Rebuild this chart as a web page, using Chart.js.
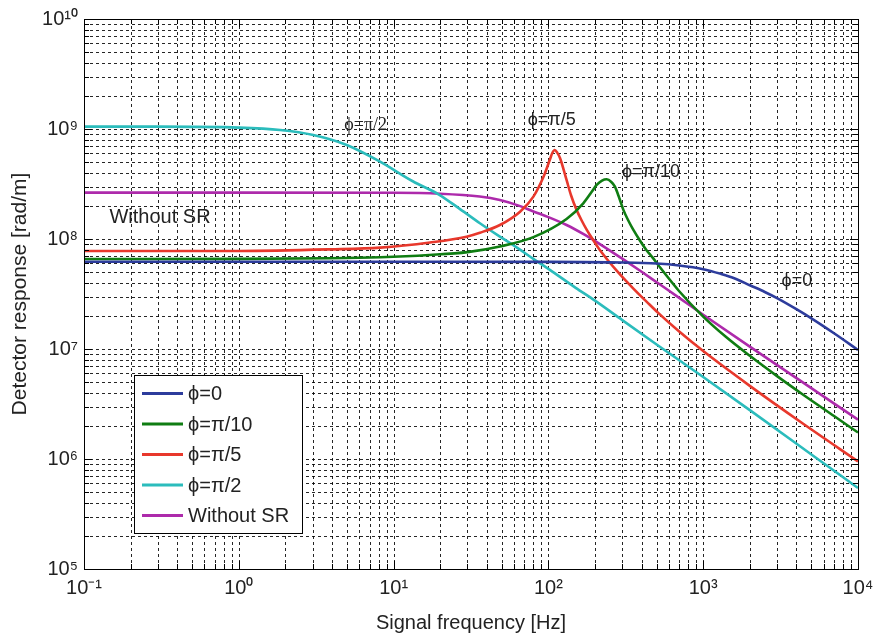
<!DOCTYPE html>
<html><head><meta charset="utf-8">
<script src="https://cdn.jsdelivr.net/npm/chart.js@4.4.1/dist/chart.umd.min.js"></script>
<style>html,body{margin:0;padding:0;background:#fff;}#wrap{width:875px;height:639px;}</style>
</head><body><div id="wrap"><canvas id="c" width="875" height="639"></canvas></div>
<script>
// ---- data ----
const xTickLabels = ['10⁻¹','10⁰','10¹','10²','10³','10⁴'];
const yTickLabels = ['10⁵','10⁶','10⁷','10⁸','10⁹','10¹⁰'];
const seriesNames = ['ϕ=0','ϕ=π/10','ϕ=π/5','ϕ=π/2','Without SR'];

const freqPhi0 = [0.1, 1, 10, 100, 300, 500, 700, 1000, 1300, 1600, 2000, 2500, 3000, 4000, 5000, 7000, 10000];
const respPhi0 = [6.22e7, 6.22e7, 6.22e7, 6.2e7, 6.12e7, 5.98e7, 5.74e7, 5.32e7, 4.82e7, 4.38e7, 3.8e7, 3.3e7, 2.9e7, 2.3e7, 1.9e7, 1.39e7, 9.8e6];

const freqPhi10 = [0.1, 1, 3.9, 8.2, 17, 30, 48.6, 80, 131, 168, 190, 205, 222, 238, 255, 269, 287, 305, 330, 354, 390, 428, 470, 512, 700, 1000, 1400, 2000, 3000, 4400, 7000, 10000];
const respPhi10 = [6.58e7, 6.6e7, 6.68e7, 6.83e7, 7.16e7, 7.6e7, 8.55e7, 1.04e8, 1.52e8, 2.11e8, 2.67e8, 3.1e8, 3.4e8, 3.49e8, 3.3e8, 2.99e8, 2.36e8, 1.84e8, 1.45e8, 1.21e8, 9.7e7, 8.0e7, 6.8e7, 5.8e7, 3.35e7, 1.97e7, 1.29e7, 8.67e6, 5.67e6, 3.86e6, 2.46e6, 1.74e6];

const freqPhi5 = [0.1, 1, 3.9, 8.2, 17.2, 29.6, 36.1, 48.6, 65.6, 80, 93, 102, 106, 110, 114, 119, 131, 140, 152, 165, 177, 195, 215, 245, 277, 315, 354, 400, 450, 512, 700, 1000, 2000, 4400, 10000];
const respPhi5 = [7.78e7, 7.78e7, 8.05e7, 8.35e7, 9.3e7, 1.05e8, 1.14e8, 1.34e8, 1.77e8, 2.43e8, 3.68e8, 5.22e8, 6.05e8, 6.44e8, 6.1e8, 5.42e8, 3.44e8, 2.5e8, 1.84e8, 1.45e8, 1.21e8, 9.75e7, 7.94e7, 6.28e7, 5.13e7, 4.2e7, 3.54e7, 2.98e7, 2.54e7, 2.13e7, 1.44e7, 9.57e6, 4.62e6, 2.1e6, 9.5e5];

const freqPhi2 = [0.1, 0.3, 1, 1.85, 3.03, 4.98, 8.17, 13.3, 19.5, 27, 36.1, 48.6, 60, 80, 100, 150, 200, 300, 500, 1000, 2000, 5000, 10000];
const respPhi2 = [1.05e9, 1.05e9, 1.03e9, 9.8e8, 8.82e8, 7.16e8, 5.05e8, 3.35e8, 2.55e8, 1.86e8, 1.39e8, 1.05e8, 8.7e7, 6.6e7, 5.35e7, 3.6e7, 2.75e7, 1.83e7, 1.1e7, 5.56e6, 2.78e6, 1.1e6, 5.45e5];

const freqNoSR = [0.1, 1, 10, 20, 36, 48.6, 65, 80, 100, 131, 170, 215, 300, 400, 512, 700, 1000, 2000, 4400, 10000];
const respNoSR = [2.64e8, 2.64e8, 2.63e8, 2.58e8, 2.43e8, 2.26e8, 2.0e8, 1.78e8, 1.58e8, 1.34e8, 1.1e8, 9.0e7, 6.62e7, 5.04e7, 3.96e7, 2.92e7, 2.05e7, 1.05e7, 4.97e6, 2.28e6];

const seriesColors = ['#2d3c9c', '#0f7d12', '#e8382c', '#2bbcbc', '#ad2aab'];

// in-plot text notes, anchored in data coordinates
const notes = [
  {text:'ϕ=π/2', f:6.6, v:1.09e9, font:"18px 'Liberation Serif', 'DejaVu Serif', serif"},
  {text:'ϕ=π/5', f:105, v:1.21e9, font:"18px 'Liberation Sans', Arial, sans-serif"},
  {text:'ϕ=π/10', f:460, v:4.06e8, font:"18px 'Liberation Sans', Arial, sans-serif"},
  {text:'ϕ=0', f:4030, v:4.15e7, font:"18px 'Liberation Sans', Arial, sans-serif"},
  {text:'Without SR', f:0.31, v:1.58e8, font:"20px 'Liberation Sans', Arial, sans-serif"}
];

// ---- chart ----
const zip = (xs, ys) => xs.map((x, i) => ({x: x, y: ys[i]}));
const seriesData = [zip(freqPhi0, respPhi0), zip(freqPhi10, respPhi10), zip(freqPhi5, respPhi5), zip(freqPhi2, respPhi2), zip(freqNoSR, respNoSR)];

const isPow10 = v => { const e = Math.round(Math.log10(v)); return Math.abs(v - Math.pow(10, e)) / Math.pow(10, e) < 1e-6; };
const logTicks = (lo, hi) => { const t = []; for (let e = lo; e <= hi; e++) { for (let m = 1; m <= 9; m++) { const v = Number((m * Math.pow(10, e)).toPrecision(6)); if (v <= Math.pow(10, hi) * 1.0000001) t.push({value: v}); } } return t; };

Chart.defaults.font.family = "'Liberation Sans', Arial, Helvetica, sans-serif";
Chart.defaults.color = '#222';

const gridPlugin = {
  id: 'dottedGrid',
  beforeDatasetsDraw(chart) {
    const {ctx, chartArea: a, scales: {x, y}} = chart;
    ctx.save();
    ctx.strokeStyle = 'rgba(0,0,0,0.85)';
    ctx.lineWidth = 1;
    ctx.setLineDash([3, 3]);
    ctx.beginPath();
    x.ticks.forEach(t => {
      const px = Math.round(x.getPixelForValue(t.value)) + 0.5;
      if (px < a.left + 1 || px > a.right - 1) return;
      ctx.moveTo(px, a.bottom); ctx.lineTo(px, a.top);
    });
    y.ticks.forEach(t => {
      const py = Math.round(y.getPixelForValue(t.value)) + 0.5;
      if (py < a.top + 1 || py > a.bottom - 1) return;
      ctx.moveTo(a.left, py); ctx.lineTo(a.right, py);
    });
    ctx.stroke();
    ctx.restore();
  }
};

const framePlugin = {
  id: 'frame',
  afterDraw(chart) {
    const {ctx, chartArea: a, scales: {x, y}} = chart;
    ctx.save();
    ctx.setLineDash([]);
    ctx.strokeStyle = '#000';
    ctx.lineWidth = 1;
    ctx.beginPath();
    x.ticks.forEach(t => {
      const px = Math.round(x.getPixelForValue(t.value)) + 0.5;
      const L = isPow10(t.value) ? 8 : 5;
      ctx.moveTo(px, a.bottom); ctx.lineTo(px, a.bottom - L);
      ctx.moveTo(px, a.top); ctx.lineTo(px, a.top + L);
    });
    y.ticks.forEach(t => {
      const py = Math.round(y.getPixelForValue(t.value)) + 0.5;
      const L = isPow10(t.value) ? 8 : 5;
      ctx.moveTo(a.left, py); ctx.lineTo(a.left + L, py);
      ctx.moveTo(a.right, py); ctx.lineTo(a.right - L, py);
    });
    ctx.stroke();
    ctx.strokeRect(Math.round(a.left) + 0.5, Math.round(a.top) + 0.5, Math.round(a.right - a.left), Math.round(a.bottom - a.top));

    // notes
    ctx.fillStyle = '#222';
    ctx.textAlign = 'center';
    ctx.textBaseline = 'middle';
    notes.forEach(n => {
      ctx.font = n.font;
      ctx.fillText(n.text, x.getPixelForValue(n.f), y.getPixelForValue(n.v));
    });

    // legend box
    const bx = 134.5, by = 375.5, bw = 168, bh = 158;
    ctx.fillStyle = '#fff';
    ctx.fillRect(bx, by, bw, bh);
    ctx.strokeStyle = '#000';
    ctx.strokeRect(bx, by, bw, bh);
    ctx.font = "20px 'Liberation Sans', Arial, sans-serif";
    ctx.textAlign = 'left';
    chart.data.datasets.forEach((ds, i) => {
      const ry = 393.5 + i * 30.5;
      ctx.strokeStyle = ds.borderColor;
      ctx.lineWidth = 3;
      ctx.beginPath(); ctx.moveTo(142, ry); ctx.lineTo(183, ry); ctx.stroke();
      ctx.fillStyle = '#222';
      ctx.fillText(ds.label, 188, ry + 1);
    });
    ctx.restore();
  }
};

new Chart(document.getElementById('c'), {
  type: 'line',
  data: {
    datasets: seriesData.map((d, i) => ({
      label: seriesNames[i], data: d, borderColor: seriesColors[i], backgroundColor: seriesColors[i],
      borderWidth: 2.6, pointRadius: 0, cubicInterpolationMode: 'monotone', fill: false
    }))
  },
  options: {
    responsive: false, animation: false, devicePixelRatio: 1,
    layout: {padding: {top: 19, right: 17, left: 0, bottom: 0}},
    plugins: {legend: {display: false}, tooltip: {enabled: false}},
    scales: {
      x: {
        type: 'logarithmic', min: 0.1, max: 10000,
        afterBuildTicks: s => { s.ticks = logTicks(-1, 4); },
        afterFit: s => { s.height = 70; s.paddingLeft = 0; s.paddingRight = 0; },
        ticks: {autoSkip: false, maxRotation: 0, padding: 7, color: '#222', font: {size: 20},
          callback: v => isPow10(v) ? xTickLabels[Math.round(Math.log10(v)) + 1] : ''},
        grid: {display: false, drawTicks: false},
        border: {display: false},
        title: {display: true, text: 'Signal frequency [Hz]', color: '#222', font: {size: 20}, padding: {top: 0, bottom: 4}}
      },
      y: {
        type: 'logarithmic', min: 1e5, max: 1e10,
        afterBuildTicks: s => { s.ticks = logTicks(5, 10); },
        afterFit: s => { s.width = 84; s.paddingTop = 0; s.paddingBottom = 0; },
        ticks: {autoSkip: false, padding: 6, color: '#222', font: {size: 20},
          callback: v => isPow10(v) ? yTickLabels[Math.round(Math.log10(v)) - 5] : ''},
        grid: {display: false, drawTicks: false},
        border: {display: false},
        title: {display: true, text: 'Detector response [rad/m]', color: '#222', font: {size: 21}, padding: {top: 8, bottom: 0}}
      }
    }
  },
  plugins: [gridPlugin, framePlugin]
});
</script>
</body></html>
